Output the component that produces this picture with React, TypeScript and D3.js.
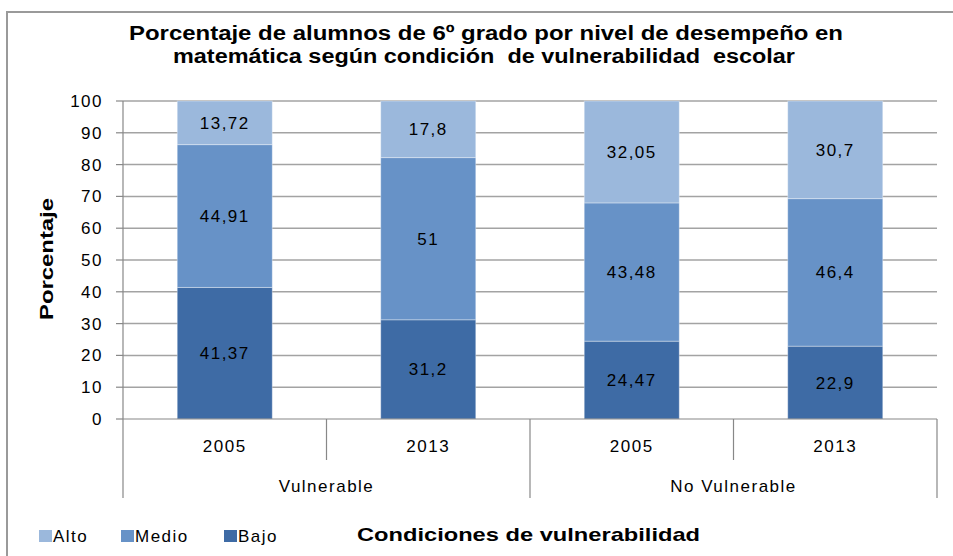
import React from 'react';
import * as d3 from 'd3';

// categorías del eje x (año dentro de cada condición)
const groups = ['Vulnerable', 'No Vulnerable'];
const years = ['2005', '2013'];
const categories = ['V-2005', 'V-2013', 'NV-2005', 'NV-2013'];

// porcentajes por nivel de desempeño
const bajo = [41.37, 31.2, 24.47, 22.9];
const medio = [44.91, 51, 43.48, 46.4];
const alto = [13.72, 17.8, 32.05, 30.7];

const levels = ['Bajo', 'Medio', 'Alto'];
const legendOrder = ['Alto', 'Medio', 'Bajo'];
const colors: Record<string, string> = { Alto: '#9bb8dc', Medio: '#6792c7', Bajo: '#3e6ba5' };

const W = 953;
const H = 556;
const margin = { top: 101, right: 16, bottom: 137, left: 123 };
const legendX = [39, 121, 224];

const fmt = (v: number) => String(v).replace('.', ',');

const App = () => {
  const rows = categories.map((c, i) => ({ cat: c, Bajo: bajo[i], Medio: medio[i], Alto: alto[i] }));
  const series = d3.stack<any>().keys(levels)(rows);

  const x = d3.scaleBand().domain(categories).range([margin.left, W - margin.right]).paddingInner(0.533).paddingOuter(0.2665);
  const step = x.step();
  const x0 = margin.left;
  const y = d3.scaleLinear().domain([0, 100]).range([H - margin.bottom, margin.top]);
  const yTicks = y.ticks(10);
  const plotRight = x0 + step * categories.length;
  const base = y(0);

  const font = 'Liberation Sans, Arial, sans-serif';
  const grid = '#a3a3a3';

  return (
    <svg width={W} height={H} style={{ position: 'absolute', left: 0, top: 0, background: '#fff' }} fontFamily={font}>
      <rect x={7} y={12} width={W} height={H} fill="#fff" stroke="#9a9a9a" strokeWidth={2} />

      <text x={486} y={40} fontSize={20} fontWeight="bold" textAnchor="middle" textLength={714} lengthAdjust="spacingAndGlyphs">
        Porcentaje de alumnos de 6º grado por nivel de desempeño en
      </text>
      <text x={484} y={63} fontSize={20} fontWeight="bold" textAnchor="middle" textLength={622} lengthAdjust="spacingAndGlyphs"
        style={{ whiteSpace: 'pre' }}>
        {'matemática según condición  de vulnerabilidad  escolar'}
      </text>

      {/* grid + eje y */}
      {yTicks.map(t => (
        <g key={t}>
          {t > 0 && <line x1={x0} x2={plotRight} y1={y(t)} y2={y(t)} stroke={grid} strokeWidth={1.5} />}
          <line x1={x0 - 7} x2={x0} y1={y(t)} y2={y(t)} stroke="#888" strokeWidth={1.2} />
          <text x={103} y={y(t)} dy="0.35em" fontSize={17} letterSpacing={1.5} textAnchor="end">{t}</text>
        </g>
      ))}
      <line x1={x0} x2={x0} y1={y(100)} y2={base} stroke="#888" strokeWidth={1.2} />

      <text transform="translate(53,259) rotate(-90)" fontSize={19} fontWeight="bold" textAnchor="middle" textLength={122} lengthAdjust="spacingAndGlyphs">
        Porcentaje
      </text>

      {/* barras apiladas */}
      {series.map(s => (
        <g key={s.key} fill={colors[s.key]}>
          {s.map((d, i) => (
            <rect key={i} x={x(categories[i])} y={y(d[1])} width={x.bandwidth()} height={y(d[0]) - y(d[1])}
              stroke="rgba(255,255,255,0.35)" strokeWidth={1} />
          ))}
        </g>
      ))}
      {series.map(s => s.map((d, i) => (
        <text key={s.key + i} x={(x(categories[i]) as number) + x.bandwidth() / 2} y={(y(d[0]) + y(d[1])) / 2}
          dy="0.35em" fontSize={17} letterSpacing={1.5} textAnchor="middle">{fmt((d.data as any)[s.key])}</text>
      )))}

      {/* eje x con categorías agrupadas */}
      <line x1={x0} x2={plotRight} y1={base} y2={base} stroke="#888" strokeWidth={1.2} />
      {d3.range(categories.length + 1).map(i => (
        <line key={i} x1={x0 + i * step} x2={x0 + i * step} y1={base} y2={i % 2 === 0 ? 498 : 460} stroke="#888" strokeWidth={1.2} />
      ))}
      {categories.map((c, i) => (
        <text key={c} x={(x(c) as number) + x.bandwidth() / 2} y={446} dy="0.35em" fontSize={17} letterSpacing={1.5} textAnchor="middle">
          {years[i % 2]}
        </text>
      ))}
      {groups.map((g, gi) => (
        <text key={g} x={x0 + step * (gi * 2 + 1)} y={486} dy="0.35em" fontSize={17} letterSpacing={1.5} textAnchor="middle">{g}</text>
      ))}

      {/* leyenda */}
      {legendOrder.map((k, i) => (
        <g key={k} transform={`translate(${legendX[i]},530)`}>
          <rect x={0} y={0} width={13} height={12} fill={colors[k]} />
          <text x={14} y={6} dy="0.35em" fontSize={17} letterSpacing={1.5}>{k}</text>
        </g>
      ))}
      <text x={357} y={534} dy="0.35em" fontSize={19} fontWeight="bold" textLength={343} lengthAdjust="spacingAndGlyphs">
        Condiciones de vulnerabilidad
      </text>
    </svg>
  );
};

export default App;
